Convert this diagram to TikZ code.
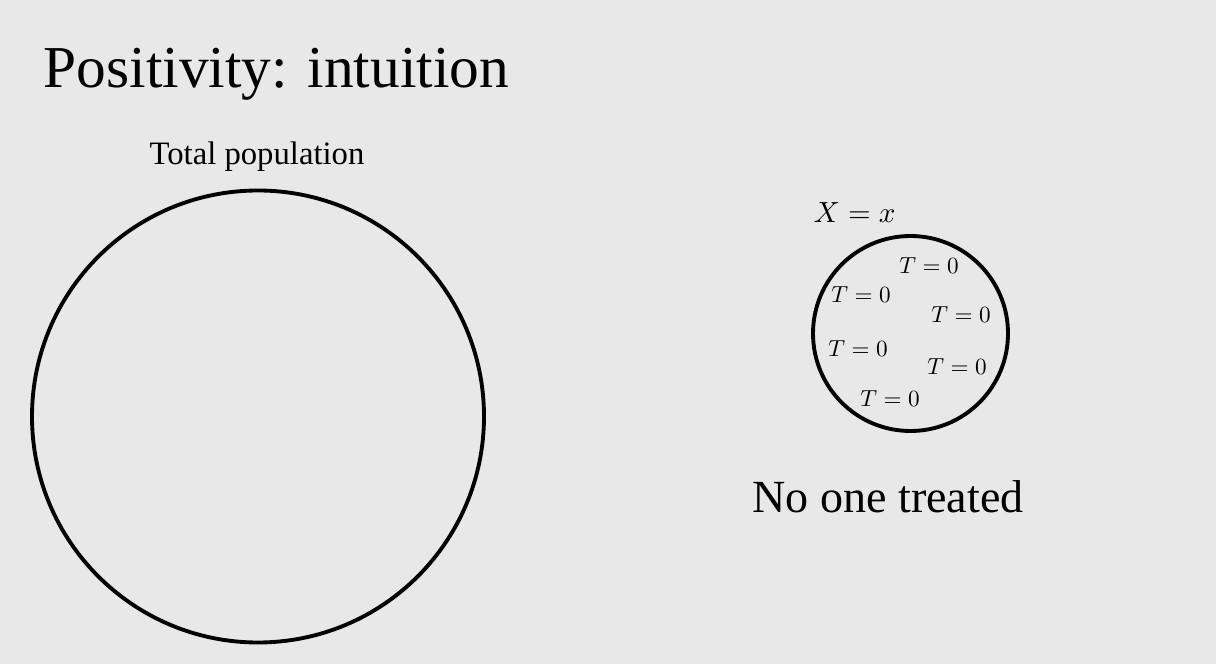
\documentclass[tikz,border=0pt]{standalone}
\usepackage[no-math]{fontspec}
\setmainfont{Liberation Serif}
\usepackage{tikz}
\usetikzlibrary{positioning}
\definecolor{slidegray}{HTML}{E8E8E8}
\tikzstyle{pop line}=[line width=1.1pt,draw=black]
\tikzstyle{group}=[pop line,circle,inner sep=0pt]
\tikzstyle{unit}=[anchor=base,inner sep=0pt,transform shape,scale=0.66]
\begin{document}
\begin{tikzpicture}
	\def\R{2.26}   % radius of total population
	\def\r{0.975}  % radius of subgroup
	% Background of the slide
	\fill[slidegray] (0,0) rectangle (12.16,6.64);
	\useasboundingbox (0,0) rectangle (12.16,6.64);

	% Title
	\node[anchor=base west,inner sep=0pt,font=\fontsize{16.9}{20}\selectfont] (title) at (0.43,5.76) {Positivity: intuition};

	% Total population
	\node[group,minimum size=2*\R cm] (pop) at (2.58,2.475) {};
	\node[anchor=base,inner sep=0pt,font=\fontsize{9.3}{11}\selectfont] (poplabel) at (2.57,4.99) {Total population};

	% Subgroup with X = x
	\node[group,minimum size=2*\r cm] (sub) at (9.105,3.305) {};
	\node[anchor=base west,inner sep=0pt,transform shape,scale=0.83] (sublabel) at (8.13,4.41) {$X = x$};

	% Units, all untreated
	\node[unit] (t1) at (9.29,3.90) {$T = 0$};
	\node[unit] (t2) at (8.61,3.61) {$T = 0$};
	\node[unit] (t3) at (9.61,3.41) {$T = 0$};
	\node[unit] (t4) at (8.58,3.07) {$T = 0$};
	\node[unit] (t5) at (9.57,2.89) {$T = 0$};
	\node[unit] (t6) at (8.90,2.57) {$T = 0$};

	\node[anchor=base,inner sep=0pt,font=\fontsize{13.1}{16}\selectfont] (caption) at (8.88,1.51) {No one treated};
\end{tikzpicture}
\end{document}
